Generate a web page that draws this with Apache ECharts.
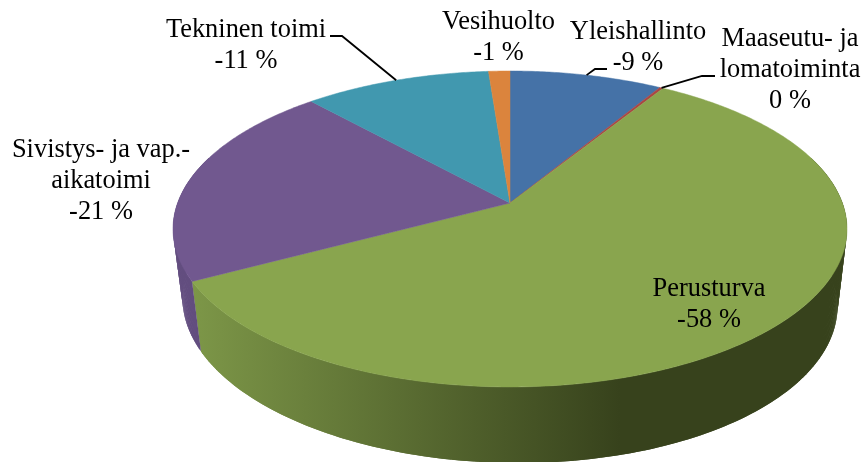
<!DOCTYPE html>
<html>
<head>
<meta charset="utf-8">
<title>Pie</title>
<style>
  html, body { margin: 0; padding: 0; background: #fff; }
  #chart { width: 865px; height: 462px; }
</style>
<script src="https://cdn.jsdelivr.net/npm/echarts@6/dist/echarts.min.js"></script>
</head>
<body>
<div id="chart"></div>
<script>
// values, share of the whole, clockwise from 12 o'clock
var categories = ['Yleishallinto', 'Maaseutu- ja\nlomatoiminta', 'Perusturva', 'Sivistys- ja vap.-\naikatoimi', 'Tekninen toimi', 'Vesihuolto']
var shares = [8.6, 0.2, 58.4, 21.1, 10.5, 1.2]
var shareLabels = ['-9 %', '0 %', '-58 %', '-21 %', '-11 %', '-1 %']

var colors = ['#4572A7', '#AA4643', '#89A54E', '#71588F', '#4198AF', '#DB843D']
var sideColors = [
  ['#3a5f8c', '#3a5f8c'],
  ['#8e3a38', '#8e3a38'],
  ['#7d9748', '#37421c'],
  ['#624d7f', '#5a4676'],
  ['#36808f', '#36808f'],
  ['#b86e33', '#b86e33']
]

// label centres and leader elbows in page pixels
var labelPos = [[638, 32], [790, 39], [709, 289], [101, 150], [246, 30], [498.5, 22]]
var leaders = [[[595, 69], [607, 69]], [[702, 76], [715, 76]], null, null, [[342, 36], [330, 36]], null]

// perspective of the disc
var cx = 510, cy = 203, rx = 332.4, ry = 153.7, k = 0.1645
// only this part of the rim shows, the rest sits behind the top face
var rimFrom = Math.PI * 0.4, rimTo = Math.PI * 1.6

function project(a) {
  var u = Math.sin(a), v = -Math.cos(a), w = 1 - k * v
  return [cx + rx * u / w, cy + ry * v / w]
}
function projectBase(a) {
  var p = project(a)
  return [cx + 0.972 * (p[0] - cx), 1.02 * p[1] + 68.3 + 0.012 * (p[0] - cx)]
}
function toAngle(share) {
  return share / 100 * Math.PI * 2
}

var rows = []
var sum = 0
for (var i = 0; i < shares.length; i++) {
  rows.push([sum, sum + shares[i], i])
  sum += shares[i]
}

function renderSide(params, api) {
  var a0 = Math.max(toAngle(api.value(0)), rimFrom)
  var a1 = Math.min(toAngle(api.value(1)), rimTo)
  var idx = api.value(2)
  if (a1 <= a0) {
    return null
  }
  var fill = new echarts.graphic.LinearGradient(190, 0, 620, 0, [
    { offset: 0, color: sideColors[idx][0] },
    { offset: 1, color: sideColors[idx][1] }
  ], true)
  var n = Math.ceil((a1 - a0) / 0.01)
  var children = []
  for (var j = 0; j < n; j++) {
    // each quad runs one step into the next so no seams show
    var s = a0 + (a1 - a0) * j / n
    var e = a0 + (a1 - a0) * Math.min(j + 2, n) / n
    children.push({
      type: 'polygon',
      shape: { points: [project(s), project(e), projectBase(e), projectBase(s)] },
      style: { fill: fill }
    })
  }
  return { type: 'group', children: children }
}

function renderTop(params, api) {
  var a0 = toAngle(api.value(0))
  var a1 = toAngle(api.value(1))
  var idx = api.value(2)
  var n = Math.max(2, Math.ceil((a1 - a0) / 0.01))
  var pts = [[cx, cy]]
  for (var j = 0; j <= n; j++) {
    pts.push(project(a0 + (a1 - a0) * j / n))
  }
  return {
    type: 'polygon',
    shape: { points: pts },
    style: { fill: colors[idx], stroke: colors[idx], lineWidth: 0.5 }
  }
}

function renderLabel(params, api) {
  var idx = api.value(2)
  var mid = toAngle((api.value(0) + api.value(1)) / 2)
  var pos = labelPos[idx]
  var children = []
  if (leaders[idx]) {
    children.push({
      type: 'polyline',
      shape: { points: [project(mid)].concat(leaders[idx]) },
      style: { fill: 'none', stroke: '#000', lineWidth: 1.8 }
    })
  }
  children.push({
    type: 'text',
    x: pos[0],
    y: pos[1] - 15.5,
    style: {
      text: categories[idx] + '\n' + shareLabels[idx],
      font: '26.4px "Liberation Serif", serif',
      lineHeight: 31,
      fill: '#000',
      align: 'center',
      verticalAlign: 'top'
    }
  })
  return { type: 'group', children: children }
}

var chart = echarts.init(document.getElementById('chart'))
chart.setOption({
  backgroundColor: '#fff',
  animation: false,
  series: [
    { type: 'custom', coordinateSystem: 'none', silent: true, renderItem: renderSide, data: rows, z: 1 },
    { type: 'custom', coordinateSystem: 'none', silent: true, renderItem: renderTop, data: rows, z: 2 },
    { type: 'custom', coordinateSystem: 'none', silent: true, renderItem: renderLabel, data: rows, z: 3 }
  ]
})
</script>
</body>
</html>
